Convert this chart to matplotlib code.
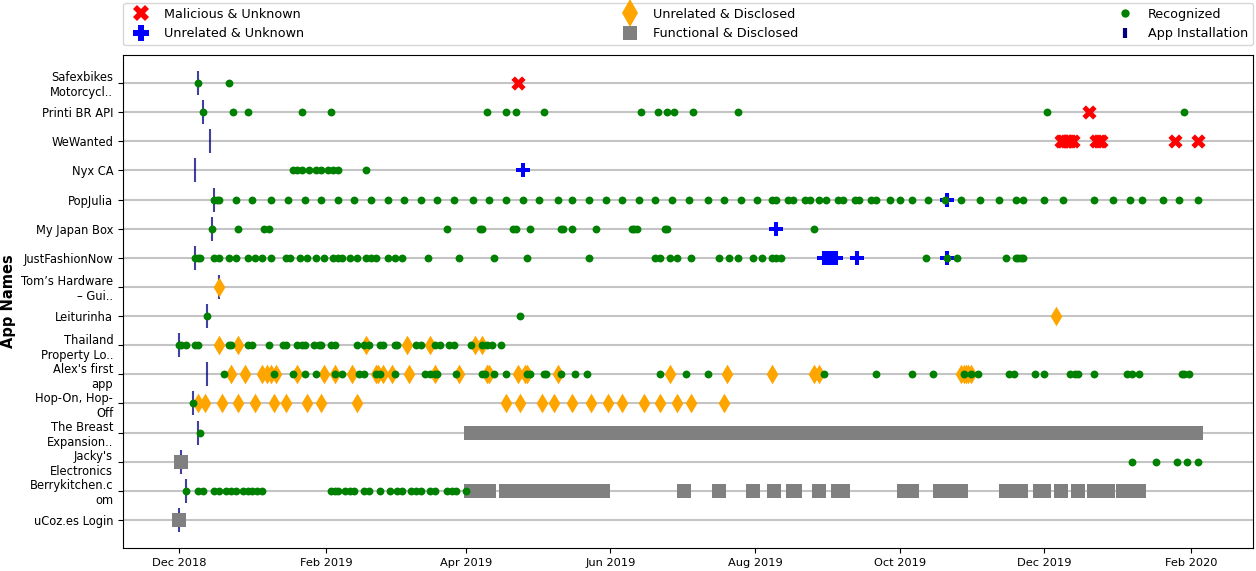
import pandas as pd
import matplotlib
matplotlib.use('Agg')
import matplotlib.pyplot as plt
import matplotlib.dates as mdates
from matplotlib.lines import Line2D

# apps, top to bottom
apps = ['Safexbikes', 'Printi', 'WeWanted', 'Nyx', 'PopJulia', 'MyJapanBox',
        'JustFashionNow', 'TomsHardware', 'Leiturinha', 'Thailand', 'Alex',
        'HopOn', 'Breast', 'Jackys', 'Berrykitchen', 'uCoz']
app_labels = ['Safexbikes\nMotorcycl..', 'Printi BR API', 'WeWanted', 'Nyx CA',
              'PopJulia', 'My Japan Box', 'JustFashionNow', 'Tom\u2019s Hardware\n\u2013 Gui..',
              'Leiturinha', 'Thailand\nProperty Lo..', "Alex's first\napp",
              'Hop-On, Hop-\nOff', 'The Breast\nExpansion..', "Jacky's\nElectronics",
              'Berrykitchen.c\nom', 'uCoz.es Login']

install_dates = ['2018-12-09', '2018-12-11', '2018-12-14', '2018-12-08', '2018-12-16',
                 '2018-12-15', '2018-12-08', '2018-12-18', '2018-12-13', '2018-12-01',
                 '2018-12-13', '2018-12-07', '2018-12-09', '2018-12-02', '2018-12-04',
                 '2018-12-01']

malicious_unknown = {
    'Safexbikes': ['2019-04-23'],
    'Printi': ['2019-12-20'],
    'WeWanted': ['2019-12-08', '2019-12-09', '2019-12-10', '2019-12-11', '2019-12-12',
                 '2019-12-13', '2019-12-23', '2019-12-24', '2019-12-25', '2020-01-25',
                 '2020-02-04'],
}

unrelated_unknown = {
    'Nyx': ['2019-04-25'],
    'PopJulia': ['2019-10-21'],
    'MyJapanBox': ['2019-08-10'],
    'JustFashionNow': ['2019-08-30', '2019-08-31', '2019-09-01', '2019-09-02', '2019-09-03',
                       '2019-09-04', '2019-09-13', '2019-10-21'],
}

unrelated_disclosed = {
    'TomsHardware': ['2018-12-18'],
    'Leiturinha': ['2019-12-06'],
    'Thailand': ['2018-12-18', '2018-12-26', '2019-02-18', '2019-03-07', '2019-03-17',
                 '2019-04-05', '2019-04-08'],
    'Alex': ['2018-12-23', '2018-12-29', '2019-01-05', '2019-01-07', '2019-01-09',
             '2019-01-11', '2019-01-20', '2019-01-31', '2019-02-05', '2019-02-12',
             '2019-02-22', '2019-02-23', '2019-02-25', '2019-03-01', '2019-03-08',
             '2019-03-19', '2019-03-29', '2019-04-10', '2019-04-11', '2019-04-23',
             '2019-04-26', '2019-04-27', '2019-05-10', '2019-06-26', '2019-07-20',
             '2019-08-08', '2019-08-26', '2019-08-28', '2019-10-27', '2019-10-28',
             '2019-10-29', '2019-10-30', '2019-10-31'],
    'HopOn': ['2018-12-09', '2018-12-12', '2018-12-19', '2018-12-26', '2019-01-02',
              '2019-01-10', '2019-01-15', '2019-01-24', '2019-01-30', '2019-02-14',
              '2019-04-18', '2019-04-24', '2019-05-03', '2019-05-08', '2019-05-16',
              '2019-05-24', '2019-05-31', '2019-06-06', '2019-06-15', '2019-06-22',
              '2019-06-29', '2019-07-05', '2019-07-19'],
}

functional_disclosed = {
    'Breast': ['2019-04-03', '2019-04-07', '2019-04-11', '2019-04-15', '2019-04-19',
               '2019-04-23', '2019-04-27', '2019-05-01', '2019-05-05', '2019-05-09',
               '2019-05-13', '2019-05-17', '2019-05-21', '2019-05-25', '2019-05-29',
               '2019-06-02', '2019-06-06', '2019-06-10', '2019-06-14', '2019-06-18',
               '2019-06-22', '2019-06-26', '2019-06-30', '2019-07-04', '2019-07-08',
               '2019-07-12', '2019-07-16', '2019-07-20', '2019-07-24', '2019-07-28',
               '2019-08-01', '2019-08-05', '2019-08-09', '2019-08-13', '2019-08-17',
               '2019-08-21', '2019-08-25', '2019-08-29', '2019-09-02', '2019-09-06',
               '2019-09-10', '2019-09-14', '2019-09-18', '2019-09-22', '2019-09-26',
               '2019-09-30', '2019-10-04', '2019-10-08', '2019-10-12', '2019-10-16',
               '2019-10-20', '2019-10-24', '2019-10-28', '2019-11-01', '2019-11-05',
               '2019-11-09', '2019-11-13', '2019-11-17', '2019-11-21', '2019-11-25',
               '2019-11-29', '2019-12-03', '2019-12-07', '2019-12-11', '2019-12-15',
               '2019-12-19', '2019-12-23', '2019-12-27', '2019-12-31', '2020-01-04',
               '2020-01-08', '2020-01-12', '2020-01-16', '2020-01-20', '2020-01-24',
               '2020-01-28', '2020-02-01', '2020-02-03'],
    'Jackys': ['2018-12-02'],
    'Berrykitchen': ['2019-04-03', '2019-04-05', '2019-04-08', '2019-04-11', '2019-04-18',
                     '2019-04-21', '2019-04-24', '2019-04-27', '2019-04-30', '2019-05-03',
                     '2019-05-06', '2019-05-09', '2019-05-12', '2019-05-15', '2019-05-18',
                     '2019-05-21', '2019-05-24', '2019-05-27', '2019-05-29', '2019-07-02',
                     '2019-07-17', '2019-07-31', '2019-08-09', '2019-08-17', '2019-08-18',
                     '2019-08-28', '2019-09-05', '2019-09-07', '2019-10-03', '2019-10-06',
                     '2019-10-18', '2019-10-21', '2019-10-27', '2019-11-15', '2019-11-18',
                     '2019-11-21', '2019-11-29', '2019-12-01', '2019-12-08', '2019-12-15',
                     '2019-12-22', '2019-12-25', '2019-12-28', '2020-01-03', '2020-01-06',
                     '2020-01-10'],
    'uCoz': ['2018-12-01'],
}

recognized = {
    'Safexbikes': ['2018-12-09', '2018-12-22'],
    'Printi': ['2018-12-11', '2018-12-24', '2018-12-30', '2019-01-22', '2019-02-03',
               '2019-04-10', '2019-04-18', '2019-04-22', '2019-05-04', '2019-06-14',
               '2019-06-21', '2019-06-25', '2019-06-28', '2019-07-06', '2019-07-25',
               '2019-12-02', '2020-01-29'],
    'Nyx': ['2019-01-18', '2019-01-20', '2019-01-22', '2019-01-25', '2019-01-28',
            '2019-01-30', '2019-02-02', '2019-02-04', '2019-02-06', '2019-02-18'],
    'PopJulia': ['2018-12-16', '2018-12-17', '2018-12-18', '2018-12-25', '2019-01-01',
                 '2019-01-09', '2019-01-16', '2019-01-23', '2019-01-30', '2019-02-06',
                 '2019-02-13', '2019-02-20', '2019-02-27', '2019-03-06', '2019-03-13',
                 '2019-03-20', '2019-03-27', '2019-04-04', '2019-04-11', '2019-04-18',
                 '2019-04-25', '2019-05-02', '2019-05-10', '2019-05-16', '2019-05-23',
                 '2019-05-30', '2019-06-06', '2019-06-13', '2019-06-20', '2019-06-27',
                 '2019-07-04', '2019-07-12', '2019-07-19', '2019-07-26', '2019-08-02',
                 '2019-08-08', '2019-08-10', '2019-08-15', '2019-08-17', '2019-08-22',
                 '2019-08-24', '2019-08-28', '2019-08-31', '2019-09-05', '2019-09-07',
                 '2019-09-12', '2019-09-14', '2019-09-19', '2019-09-21', '2019-09-27',
                 '2019-10-01', '2019-10-06', '2019-10-13', '2019-10-20', '2019-10-27',
                 '2019-11-04', '2019-11-12', '2019-11-19', '2019-11-22', '2019-12-01',
                 '2019-12-09', '2019-12-22', '2019-12-30', '2020-01-06', '2020-01-11',
                 '2020-01-20', '2020-01-27', '2020-02-04'],
    'MyJapanBox': ['2018-12-15', '2018-12-26', '2019-01-06', '2019-01-08', '2019-03-24',
                   '2019-04-07', '2019-04-08', '2019-04-21', '2019-04-22', '2019-04-28',
                   '2019-05-11', '2019-05-12', '2019-05-16', '2019-05-26', '2019-06-10',
                   '2019-06-11', '2019-06-12', '2019-06-24', '2019-06-25', '2019-08-26'],
    'JustFashionNow': ['2018-12-08', '2018-12-09', '2018-12-10', '2018-12-16', '2018-12-18',
                       '2018-12-22', '2018-12-25', '2018-12-30', '2019-01-02', '2019-01-05',
                       '2019-01-09', '2019-01-15', '2019-01-17', '2019-01-21', '2019-01-24',
                       '2019-01-28', '2019-01-31', '2019-02-04', '2019-02-06', '2019-02-08',
                       '2019-02-11', '2019-02-14', '2019-02-18', '2019-02-20', '2019-02-22',
                       '2019-02-27', '2019-03-02', '2019-03-05', '2019-03-16', '2019-03-29',
                       '2019-04-13', '2019-04-27', '2019-05-23', '2019-06-20', '2019-06-22',
                       '2019-06-26', '2019-06-29', '2019-07-05', '2019-07-17', '2019-07-21',
                       '2019-07-25', '2019-07-31', '2019-08-04', '2019-08-08', '2019-08-10',
                       '2019-08-12', '2019-10-12', '2019-10-21', '2019-10-25', '2019-11-15',
                       '2019-11-19', '2019-11-20', '2019-11-21', '2019-11-22'],
    'Leiturinha': ['2018-12-13', '2019-04-24'],
    'Thailand': ['2018-12-01', '2018-12-02', '2018-12-04', '2018-12-08', '2018-12-09',
                 '2018-12-22', '2018-12-23', '2018-12-30', '2019-01-01', '2019-01-08',
                 '2019-01-14', '2019-01-15', '2019-01-20', '2019-01-22', '2019-01-23',
                 '2019-01-27', '2019-01-29', '2019-01-30', '2019-02-03', '2019-02-05',
                 '2019-02-14', '2019-02-17', '2019-02-19', '2019-02-24', '2019-02-25',
                 '2019-03-02', '2019-03-03', '2019-03-11', '2019-03-13', '2019-03-19',
                 '2019-03-21', '2019-03-25', '2019-03-27', '2019-04-03', '2019-04-08',
                 '2019-04-10', '2019-04-12', '2019-04-16'],
    'Alex': ['2018-12-20', '2019-01-10', '2019-01-18', '2019-01-23', '2019-01-28',
             '2019-02-05', '2019-02-08', '2019-02-15', '2019-02-17', '2019-02-22',
             '2019-02-24', '2019-03-02', '2019-03-15', '2019-03-17', '2019-03-19',
             '2019-03-20', '2019-03-28', '2019-04-08', '2019-04-09', '2019-04-13',
             '2019-04-18', '2019-04-27', '2019-04-28', '2019-05-04', '2019-05-05',
             '2019-05-11', '2019-05-17', '2019-05-22', '2019-06-22', '2019-07-03',
             '2019-07-12', '2019-08-30', '2019-09-21', '2019-10-06', '2019-10-15',
             '2019-10-28', '2019-10-31', '2019-11-03', '2019-11-16', '2019-11-18',
             '2019-11-27', '2019-12-01', '2019-12-12', '2019-12-14', '2019-12-15',
             '2019-12-22', '2020-01-05', '2020-01-07', '2020-01-10', '2020-01-28',
             '2020-01-29', '2020-01-31'],
    'HopOn': ['2018-12-07'],
    'Breast': ['2018-12-10'],
    'Jackys': ['2020-01-07', '2020-01-17', '2020-01-26', '2020-01-30', '2020-02-04'],
    'Berrykitchen': ['2018-12-04', '2018-12-09', '2018-12-11', '2018-12-16', '2018-12-18',
                     '2018-12-21', '2018-12-23', '2018-12-25', '2018-12-28', '2018-12-30',
                     '2019-01-01', '2019-01-03', '2019-01-05', '2019-02-03', '2019-02-05',
                     '2019-02-06', '2019-02-09', '2019-02-11', '2019-02-13', '2019-02-17',
                     '2019-02-19', '2019-02-24', '2019-02-28', '2019-03-03', '2019-03-05',
                     '2019-03-09', '2019-03-11', '2019-03-13', '2019-03-17', '2019-03-19',
                     '2019-03-24', '2019-03-26', '2019-03-28', '2019-04-01'],
}

n = len(apps)
ypos = {a: n - 1 - i for i, a in enumerate(apps)}

fig = plt.figure(figsize=(12.56, 5.71), dpi=100)
ax = fig.add_axes([0.0979, 0.0403, 0.8997, 0.8634])


def draw(data, marker, color, s, z, **kw):
    for app, dates in data.items():
        d = pd.to_datetime(dates)
        ax.scatter(d, [ypos[app]] * len(d), marker=marker, color=color, s=s, zorder=z, **kw)


ax.scatter(pd.to_datetime(install_dates), [ypos[a] for a in apps], marker='|',
           s=290, color='navy', linewidths=1.5, alpha=0.75, zorder=2)
draw(malicious_unknown, 'X', 'red', 105, 3, linewidths=0)
draw(unrelated_unknown, 'P', 'blue', 110, 3, linewidths=0)
draw(unrelated_disclosed, 'd', 'orange', 100, 3, linewidths=0)
draw(functional_disclosed, 's', 'gray', 100, 3, linewidths=0)
draw(recognized, 'o', 'green', 32, 4, linewidths=0)

ax.set_yticks(range(n))
ax.set_yticklabels(app_labels[::-1], fontsize=8.3)
ax.set_ylim(-0.96, n - 1 + 0.96)
ax.yaxis.grid(True, color='#c4c4c4', lw=1.5)
ax.set_axisbelow(True)
ax.set_ylabel('App Names', fontsize=10.5, fontweight='bold')

ax.xaxis.set_major_locator(mdates.MonthLocator(bymonth=[2, 4, 6, 8, 10, 12]))
ax.xaxis.set_major_formatter(mdates.DateFormatter('%b %Y'))
ax.set_xlim(pd.Timestamp('2018-11-07 10:00'), pd.Timestamp('2020-02-27'))
ax.tick_params(axis='x', labelsize=8.2)

handles = [
    Line2D([], [], marker='X', color='red', ls='None', ms=12, mew=0),
    Line2D([], [], marker='P', color='blue', ls='None', ms=12, mew=0),
    Line2D([], [], marker='d', color='orange', ls='None', ms=14, mew=0),
    Line2D([], [], marker='s', color='gray', ls='None', ms=10, mew=0),
    Line2D([], [], marker='o', color='green', ls='None', ms=6, mew=0),
    Line2D([], [], marker='|', color='navy', ls='None', ms=7.5, mew=3),
]
labels = ['Malicious & Unknown', 'Unrelated & Unknown', 'Unrelated & Disclosed',
          'Functional & Disclosed', 'Recognized', 'App Installation']
ax.legend(handles, labels, loc='lower left', bbox_to_anchor=(0, 1.02, 1, 0.1),
          mode='expand', ncol=3, borderaxespad=0, fontsize=9.2)

fig.savefig('out.png', dpi=100)
